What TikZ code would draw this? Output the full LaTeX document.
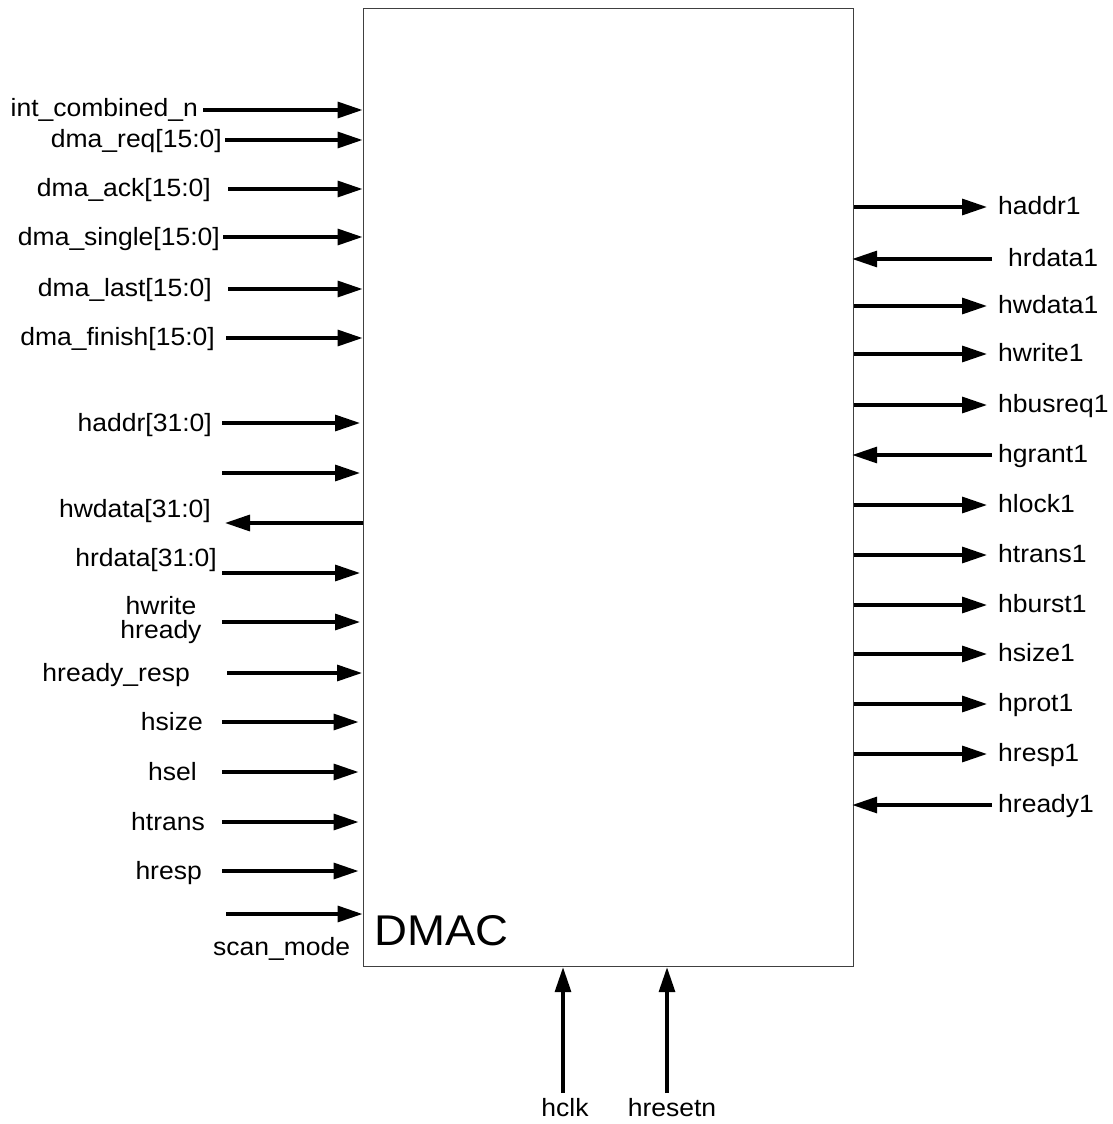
\documentclass[tikz,border=0pt]{standalone}
\usepackage{fontspec}
\usepackage{graphicx}
\setmainfont{Liberation Sans}
\usetikzlibrary{arrows.meta}
\newcommand\sxt[1]{\scalebox{1.06}[1]{#1}}
\begin{document}
\begin{tikzpicture}[x=1pt,y=-1pt,
  lab/.style={font=\fontsize{25}{20}\selectfont, inner sep=0pt},
  sig/.style={line width=3.3pt, -{Triangle[length=25pt,width=16pt]}},
  box/.style={draw=black!75, line width=1.2pt, minimum width=490.5pt, minimum height=958pt, inner sep=0pt, anchor=north west}]
\useasboundingbox[fill=white] (0,0) rectangle (1113,1124);
\node[box] (dmac) at (362.5,8) {};
\node[anchor=base west, inner sep=0pt, font=\fontsize{43}{43}\selectfont] (dmaclabel) at (374,945) {\sxt{DMAC}};
% left inputs
\foreach \n/\ly/\sx/\sh/\lx/\lb/\txt in {
  1/110/203/0/198/116/{int\_combined\_n},
  2/140/225/0/222/147/{dma\_req[15:0]},
  3/189/228/0/211/196/{dma\_ack[15:0]},
  4/237/223/0/220/245/{dma\_single[15:0]},
  5/289/228/0/212/296/{dma\_last[15:0]},
  6/338/226/0/215/345/{dma\_finish[15:0]},
  7/423/222/2.5/212/431/{haddr[31:0]},
  10/573/222/2.5/217/566/{hrdata[31:0]},
  12/673/227/0.5/190/681/{hready\_resp},
  13/722/222/4/203/730/{hsize},
  14/772/222/4/197/780/{hsel},
  15/822/222/4/205/830/{htrans},
  16/871/222/4/202/879/{hresp}}{
  \coordinate (ls\n) at (\sx,\ly);
  \draw[sig, shorten >=\sh pt] (ls\n) -- (ls\n -| dmac.west);
  \node[lab, anchor=base east] (lt\n) at (\lx,\lb) {\sxt{\txt}};
}
\coordinate (ls8) at (222,473);
\draw[sig, shorten >=2.5pt] (ls8) -- (ls8 -| dmac.west);
\coordinate (ls9) at (225,523);
\draw[sig] (ls9 -| dmac.west) -- (ls9);
\node[lab, anchor=base east] (lt9) at (211,517) {\sxt{hwdata[31:0]}};
\coordinate (ls11) at (222,622);
\draw[sig, shorten >=2.5pt] (ls11) -- (ls11 -| dmac.west);
\node[lab, font=\fontsize{25}{23.5}\selectfont, align=center, anchor=center] (lt11) at (161,620) {\sxt{hwrite}\\\sxt{hready}};
\coordinate (ls17) at (226,914);
\draw[sig] (ls17) -- (ls17 -| dmac.west);
\node[lab, anchor=base west] (lt17) at (213,955) {\sxt{scan\_mode}};
% right outputs
\foreach \n/\ry/\txt in {
  1/207/haddr1, 3/306/hwdata1, 4/354/hwrite1, 5/405/hbusreq1,
  7/505/hlock1, 8/555/htrans1, 9/605/hburst1, 10/654/hsize1,
  11/704/hprot1, 12/754/hresp1}{
  \coordinate (re\n) at (987,\ry);
  \draw[sig] (re\n -| dmac.east) -- (re\n);
  \node[lab, anchor=base west] (rt\n) at (998,\ry+7) {\sxt{\txt}};
}
% right inputs
\foreach \n/\ry/\lx/\txt in {2/259/1008/hrdata1, 6/455/998/hgrant1, 13/805/998/hready1}{
  \coordinate (rs\n) at (992,\ry);
  \draw[sig, shorten >=-2pt] (rs\n) -- (rs\n -| dmac.east);
  \node[lab, anchor=base west] (rt\n) at (\lx,\ry+7) {\sxt{\txt}};
}
% bottom inputs
\coordinate (bclk) at (563,1093);
\draw[sig] (bclk) -- (bclk |- dmac.south);
\node[lab, anchor=base] (tclk) at (565,1116) {\sxt{hclk}};
\coordinate (brst) at (667,1093);
\draw[sig] (brst) -- (brst |- dmac.south);
\node[lab, anchor=base] (trst) at (672,1116) {\sxt{hresetn}};
\end{tikzpicture}
\end{document}
